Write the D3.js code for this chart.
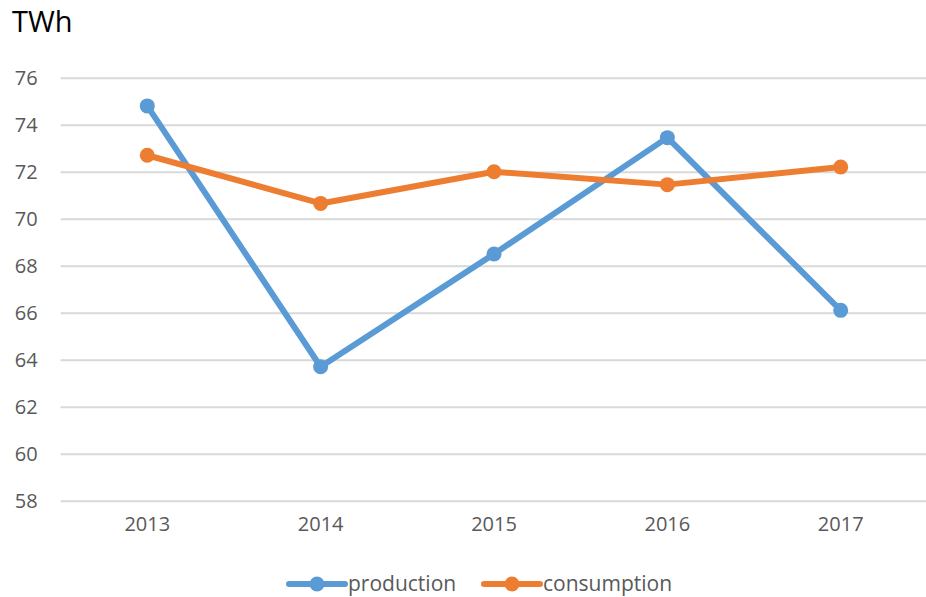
<!DOCTYPE html>
<html>
<head>
<meta charset="utf-8">
<script src="https://cdn.jsdelivr.net/npm/d3@7"></script>
<style>
  body { margin: 0; background: #fff; }
  svg { display: block; font-family: "Open Sans", sans-serif; }
</style>
</head>
<body>
<div id="chart"></div>
<script>
// data
var years = ["2013", "2014", "2015", "2016", "2017"];
var production = [74.8, 63.7, 68.5, 73.45, 66.1];
var consumption = [72.7, 70.65, 72.0, 71.45, 72.2];
var yTicks = [58, 60, 62, 64, 66, 68, 70, 72, 74, 76];
var seriesNames = ["production", "consumption"];
var seriesColors = ["#5B9BD5", "#ED7D31"];

var svgWidth = 926;
var svgHeight = 597;

var svg = d3.select("#chart")
    .append("svg")
    .attr("width", svgWidth)
    .attr("height", svgHeight);

var xScale = d3.scaleBand()
    .domain(years)
    .range([60.6, 927.4]);

var yScale = d3.scaleLinear()
    .domain([58, 76])
    .range([500.7, 77.7]);

// unit label
svg.append("text")
    .attr("x", 12)
    .attr("y", 32)
    .style("font-size", "29px")
    .style("fill", "#000")
    .text("TWh");

// gridlines + y labels
var yAxis = d3.axisLeft(yScale)
    .tickValues(yTicks)
    .tickSize(-(927.4 - 60.6))
    .tickPadding(23)
    .tickFormat(d3.format("d"));

var yG = svg.append("g")
    .attr("transform", "translate(60.6,0)")
    .call(yAxis);
yG.select(".domain").remove();
yG.selectAll(".tick line")
    .attr("stroke", "#D9D9D9")
    .attr("stroke-width", 2);
yG.selectAll(".tick text")
    .style("font-size", "20px")
    .style("font-family", "Open Sans, sans-serif")
    .attr("fill", "#595959");

// x labels
var xAxis = d3.axisBottom(xScale)
    .tickSize(0)
    .tickPadding(16);

var xG = svg.append("g")
    .attr("transform", "translate(0,500.7)")
    .call(xAxis);
xG.select(".domain").remove();
xG.selectAll(".tick text")
    .style("font-size", "20px")
    .style("font-family", "Open Sans, sans-serif")
    .attr("fill", "#595959");

var series = [production, consumption];

var line = d3.line()
    .x(function (d, i) { return xScale(years[i]) + xScale.bandwidth() / 2; })
    .y(function (d) { return yScale(d); });

series.forEach(function (values, s) {
    svg.append("path")
        .datum(values)
        .attr("fill", "none")
        .attr("stroke", seriesColors[s])
        .attr("stroke-width", 6)
        .attr("stroke-linejoin", "round")
        .attr("d", line);

    svg.selectAll(".dot" + s)
        .data(values)
        .enter()
        .append("circle")
        .attr("cx", function (d, i) { return xScale(years[i]) + xScale.bandwidth() / 2; })
        .attr("cy", function (d) { return yScale(d); })
        .attr("r", 7.5)
        .attr("fill", seriesColors[s]);
});

// legend
var legendX = [289, 484];
var legend = svg.append("g")
    .attr("transform", "translate(0,584)");

seriesNames.forEach(function (name, s) {
    var g = legend.append("g")
        .attr("transform", "translate(" + legendX[s] + ",0)");
    g.append("line")
        .attr("x1", 0)
        .attr("x2", 56)
        .attr("stroke", seriesColors[s])
        .attr("stroke-width", 6)
        .attr("stroke-linecap", "round");
    g.append("circle")
        .attr("cx", 28)
        .attr("r", 7.5)
        .attr("fill", seriesColors[s]);
    g.append("text")
        .attr("x", 59)
        .attr("dy", "0.35em")
        .style("font-size", "21px")
        .attr("fill", "#595959")
        .text(name);
});
</script>
</body>
</html>
